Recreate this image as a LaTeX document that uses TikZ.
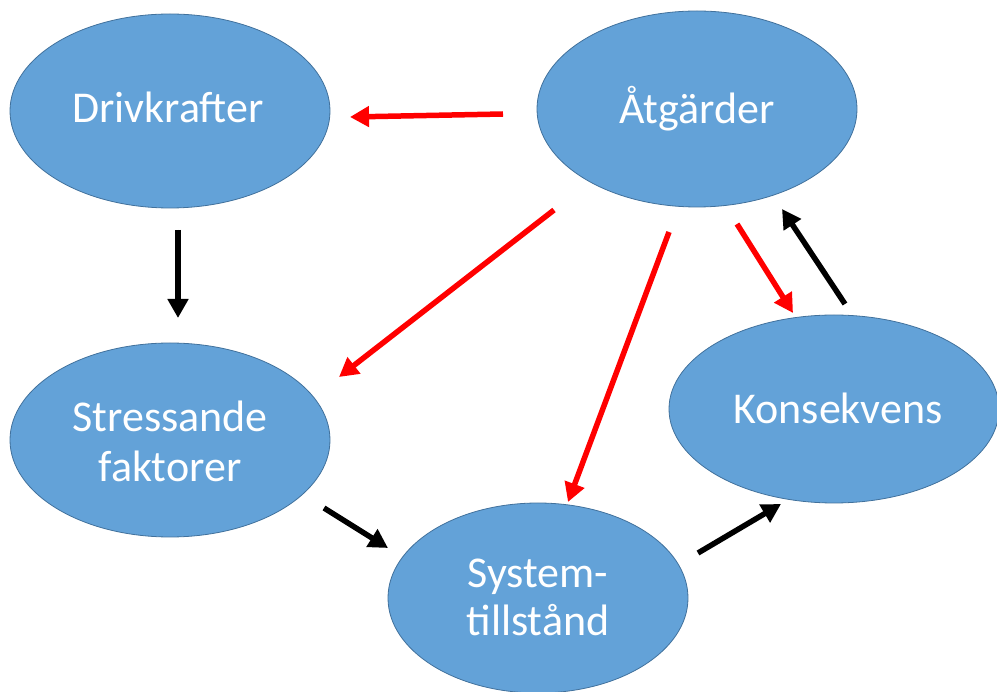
\documentclass[tikz,border=0pt]{standalone}
\usepackage{fontspec}
\setmainfont{Carlito}
\usetikzlibrary{shapes.geometric,arrows.meta}
\definecolor{blobfill}{RGB}{99,162,216}
\definecolor{blobline}{RGB}{65,113,156}
\tikzset{
  blob/.style={ellipse, draw=blobline, line width=0.8pt, fill=blobfill, inner sep=0pt},
  txt/.style={text=white, font=\fontsize{44}{50}\selectfont, anchor=base, inner sep=0pt},
  conn/.style={line width=5.5pt, -{Triangle[length=19pt,width=20pt]}},
  redc/.style={conn, draw=red, fill=red},
  blkc/.style={conn, draw=black, fill=black}
}
\begin{document}
\begin{tikzpicture}[x=1pt,y=-1pt]
\useasboundingbox (0,0) rectangle (997,692);
% ellipses
\node[blob, minimum width=320pt, minimum height=194pt] (drv) at (170,111) {};
\node[blob, minimum width=320pt, minimum height=196pt] (atg) at (697,109) {};
\node[blob, minimum width=320pt, minimum height=194pt] (str) at (170,440) {};
\node[blob, minimum width=300pt, minimum height=190pt] (sys) at (538,598) {};
\node[blob, minimum width=330pt, minimum height=188pt] (kon) at (834,409) {};
% texts
\node[txt] (tdrv) at (168,123) {Drivkrafter};
\node[txt] (tatg) at (697,124) {Åtgärder};
\node[txt] (tstr1) at (170,432) {Stressande};
\node[txt] (tstr2) at (170,482) {faktorer};
\node[txt] (tsys1) at (538,587) {System-};
\node[txt] (tsys2) at (538,635) {tillstånd};
\node[txt] (tkon) at (838,424) {Konsekvens};
% connector end points
\coordinate (a1s) at (503,114); \coordinate (a1e) at (350,117);
\coordinate (a2s) at (178,230); \coordinate (a2e) at (178,318);
\coordinate (a3s) at (554,210); \coordinate (a3e) at (339,377);
\coordinate (a4s) at (669,232); \coordinate (a4e) at (568,502);
\coordinate (a5s) at (737,224); \coordinate (a5e) at (793,313);
\coordinate (a6s) at (845,304); \coordinate (a6e) at (782,209);
\coordinate (a7s) at (324,508); \coordinate (a7e) at (388,548);
\coordinate (a8s) at (698,553); \coordinate (a8e) at (781,504);
% connectors
\draw[redc] (a1s) -- (a1e);
\draw[blkc] (a2s) -- (a2e);
\draw[redc] (a3s) -- (a3e);
\draw[redc] (a4s) -- (a4e);
\draw[redc] (a5s) -- (a5e);
\draw[blkc] (a6s) -- (a6e);
\draw[blkc] (a7s) -- (a7e);
\draw[blkc] (a8s) -- (a8e);
\end{tikzpicture}
\end{document}
